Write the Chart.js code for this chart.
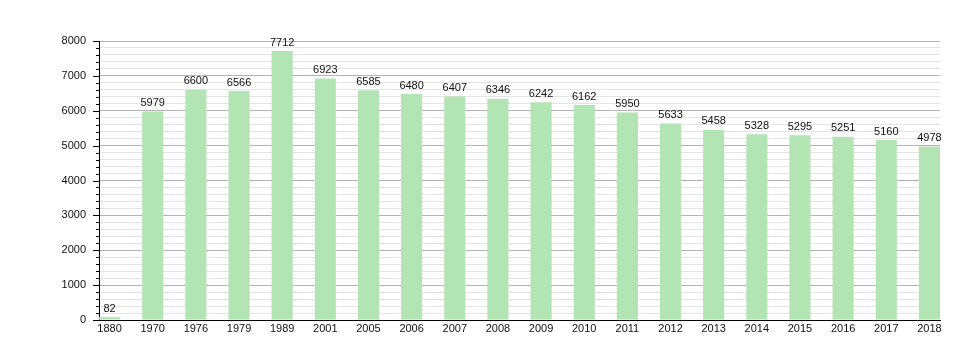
<!DOCTYPE html>
<html>
<head>
<meta charset="utf-8">
<script src="https://cdn.jsdelivr.net/npm/chart.js@4"></script>
<style>
    html, body { margin: 0; padding: 0; background: #fff; }
    #wrap { width: 979px; height: 360px; }
</style>
</head>
<body>
<div id="wrap"><canvas id="popChart" width="979" height="360"></canvas></div>
<script>
const years = ['1880', '1970', '1976', '1979', '1989', '2001', '2005', '2006', '2007', '2008',
    '2009', '2010', '2011', '2012', '2013', '2014', '2015', '2016', '2017', '2018'];
const population = [82, 5979, 6600, 6566, 7712, 6923, 6585, 6480, 6407, 6346,
    6242, 6162, 5950, 5633, 5458, 5328, 5295, 5251, 5160, 4978];
const yTicks = [0, 1000, 2000, 3000, 4000, 5000, 6000, 7000, 8000];

const barColor = '#b3e4b3';
const fontFamily = '"Liberation Sans", Arial, sans-serif';

// value labels above each bar + tick marks on the y axis
const extrasPlugin = {
    id: 'extras',
    afterDatasetsDraw(chart) {
        const ctx = chart.ctx;
        const meta = chart.getDatasetMeta(0);
        ctx.save();
        ctx.font = '11px ' + fontFamily;
        ctx.fillStyle = '#111';
        ctx.textAlign = 'center';
        ctx.textBaseline = 'bottom';
        meta.data.forEach((bar, i) => {
            ctx.fillText(String(population[i]), bar.x, bar.y - 3);
        });

        const y = chart.scales.y;
        const left = chart.chartArea.left;
        ctx.strokeStyle = '#000';
        ctx.lineWidth = 1;
        for (let v = 0; v <= 8000; v += 200) {
            const py = Math.round(y.getPixelForValue(v)) + 0.5;
            const len = v % 1000 === 0 ? 6 : 3;
            ctx.beginPath();
            ctx.moveTo(left - len, py);
            ctx.lineTo(left, py);
            ctx.stroke();
        }
        ctx.restore();
    }
};

const chart = new Chart(document.getElementById('popChart').getContext('2d'), {
    type: 'bar',
    data: {
        datasets: [{
            data: population.map((v, i) => ({ x: i, y: v })),
            backgroundColor: barColor,
            borderWidth: 0,
            barPercentage: 0.49,
            categoryPercentage: 1
        }]
    },
    options: {
        responsive: false,
        animation: false,
        layout: { padding: { left: 0, right: 39, top: 41, bottom: 0 } },
        plugins: {
            legend: { display: false },
            tooltip: { enabled: false }
        },
        scales: {
            x: {
                type: 'linear',
                offset: false,
                min: -0.245,
                max: 19.245,
                afterFit(scale) { scale.height = 40; },
                afterBuildTicks(scale) {
                    scale.ticks = years.map((_, i) => ({ value: i }));
                },
                ticks: {
                    autoSkip: false,
                    maxRotation: 0,
                    padding: 2,
                    color: '#111',
                    font: { family: fontFamily, size: 11 },
                    callback: (value) => years[value]
                },
                grid: { display: false, drawTicks: false, offset: false },
                border: { display: true, color: '#000', width: 1 }
            },
            y: {
                min: 0,
                max: 8000,
                afterFit(scale) { scale.width = 99; },
                afterBuildTicks(scale) {
                    const t = [];
                    for (let v = 0; v <= 8000; v += 200) t.push({ value: v });
                    scale.ticks = t;
                },
                ticks: {
                    autoSkip: false,
                    padding: 13,
                    color: '#111',
                    font: { family: fontFamily, size: 11 },
                    callback: (value) => yTicks.includes(value) ? String(value) : ''
                },
                grid: {
                    drawTicks: false,
                    color: (ctx) => (ctx.tick && ctx.tick.value % 1000 === 0) ? '#b4b4b4' : '#e4e4e4',
                    lineWidth: 1
                },
                border: { display: true, color: '#000', width: 1 }
            }
        }
    },
    plugins: [extrasPlugin]
});
</script>
</body>
</html>
